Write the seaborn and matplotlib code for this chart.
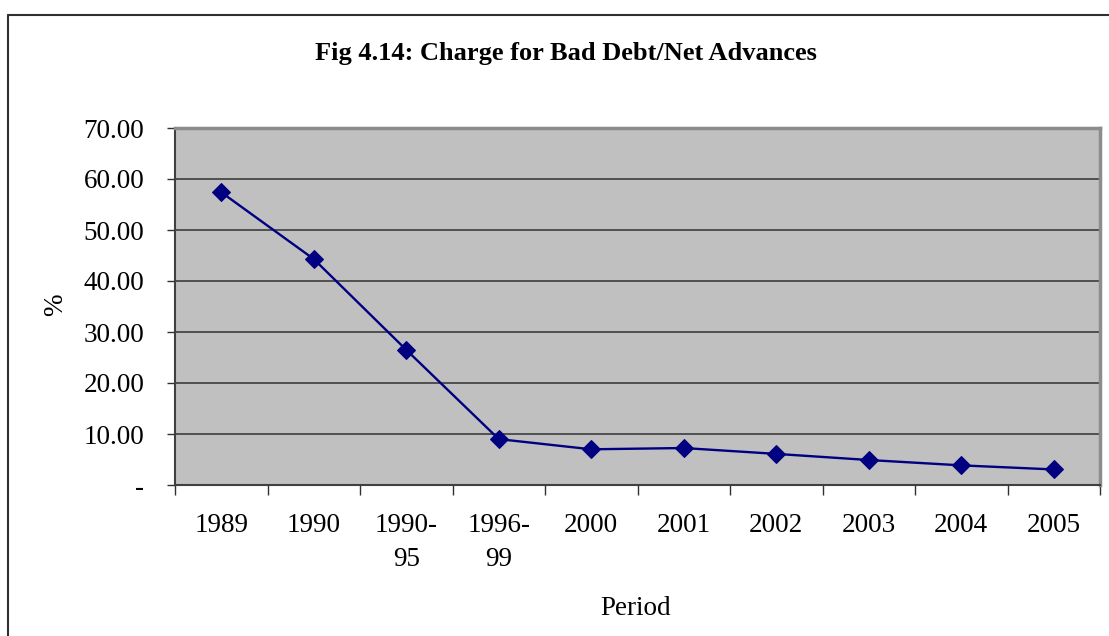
import matplotlib
matplotlib.use("Agg")
import matplotlib.pyplot as plt
from matplotlib.lines import Line2D
from matplotlib.ticker import FixedLocator, FuncFormatter
import seaborn as sns
import pandas as pd
import numpy as np

# Charge for bad debt as a share of net advances, by period
periods = ["1989", "1990", "1990-\n95", "1996-\n99", "2000", "2001",
           "2002", "2003", "2004", "2005"]
ratio_pct = [57.4, 44.3, 26.5, 9.0, 7.0, 7.25, 6.1, 4.9, 3.85, 3.05]
y_ticks = [0, 10, 20, 30, 40, 50, 60, 70]

df = pd.DataFrame({"Period": periods, "Ratio": ratio_pct})

sns.set_theme(style="white")
plt.rcParams["font.family"] = ["Liberation Serif", "DejaVu Serif"]
plt.rcParams["text.color"] = "black"
plt.rcParams["axes.labelcolor"] = "black"
plt.rcParams["xtick.labelcolor"] = "black"
plt.rcParams["ytick.labelcolor"] = "black"

fig = plt.figure(figsize=(11.09, 6.36), dpi=100)
ax = fig.add_axes([175 / 1109, 1 - 485 / 636, 925 / 1109, 357 / 636])
ax.set_facecolor("#C0C0C0")

x_pos = np.arange(len(periods))
df["x"] = x_pos
sns.lineplot(data=df, x="x", y="Ratio", ax=ax, color="#000080",
             linewidth=1.7, marker="D", markersize=9,
             markeredgecolor="#000080", markerfacecolor="#000080")

ax.set_xlim(-0.5, len(periods) - 0.5)
ax.set_ylim(0, 70)

# horizontal gridlines
for v in y_ticks[1:]:
    ax.axhline(v, color="#3C3C3C", linewidth=1.2, zorder=0.5)

# y axis
ax.yaxis.set_major_locator(FixedLocator(y_ticks))
ax.yaxis.set_major_formatter(FuncFormatter(lambda v, p: "-" if v == 0 else f"{v:.2f}"))
ax.tick_params(axis="y", which="major", direction="out", length=6, width=1,
               color="#303030", pad=16, labelsize=19.5, left=True)

# x axis: labels at category centres, tick marks on the boundaries
ax.set_xticks(x_pos)
ax.set_xticklabels(periods, linespacing=1.5)
ax.xaxis.set_minor_locator(FixedLocator(np.arange(-0.5, len(periods), 1.0)))
ax.tick_params(axis="x", which="major", length=0, pad=20, labelsize=19.5)
ax.tick_params(axis="x", which="minor", direction="out", length=7, width=1,
               color="#303030", bottom=True)
for lbl in ax.get_xticklabels():
    lbl.set_verticalalignment("top")

for side in ["left", "bottom"]:
    ax.spines[side].set_color("#404040")
    ax.spines[side].set_linewidth(1.5)
for side in ["top", "right"]:
    ax.spines[side].set_color("#8C8C8C")
    ax.spines[side].set_linewidth(2.5)

ax.set_xlabel("Period", fontsize=19.5)
ax.set_ylabel("%", fontsize=19.5)
ax.xaxis.set_label_coords(0.498, -0.31)
ax.yaxis.set_label_coords(-0.116, 0.504)

fig.text(0.510, 0.916, "Fig 4.14: Charge for Bad Debt/Net Advances",
         ha="center", va="center", fontsize=19, fontweight="bold")

# chart frame
fig.add_artist(Line2D([8 / 1109, 1.0], [1 - 15 / 636, 1 - 15 / 636],
                      transform=fig.transFigure, color="#303030", linewidth=1.5))
fig.add_artist(Line2D([8 / 1109, 8 / 1109], [0.0, 1 - 15 / 636],
                      transform=fig.transFigure, color="#303030", linewidth=1.5))

fig.savefig("out.png", dpi=100)
